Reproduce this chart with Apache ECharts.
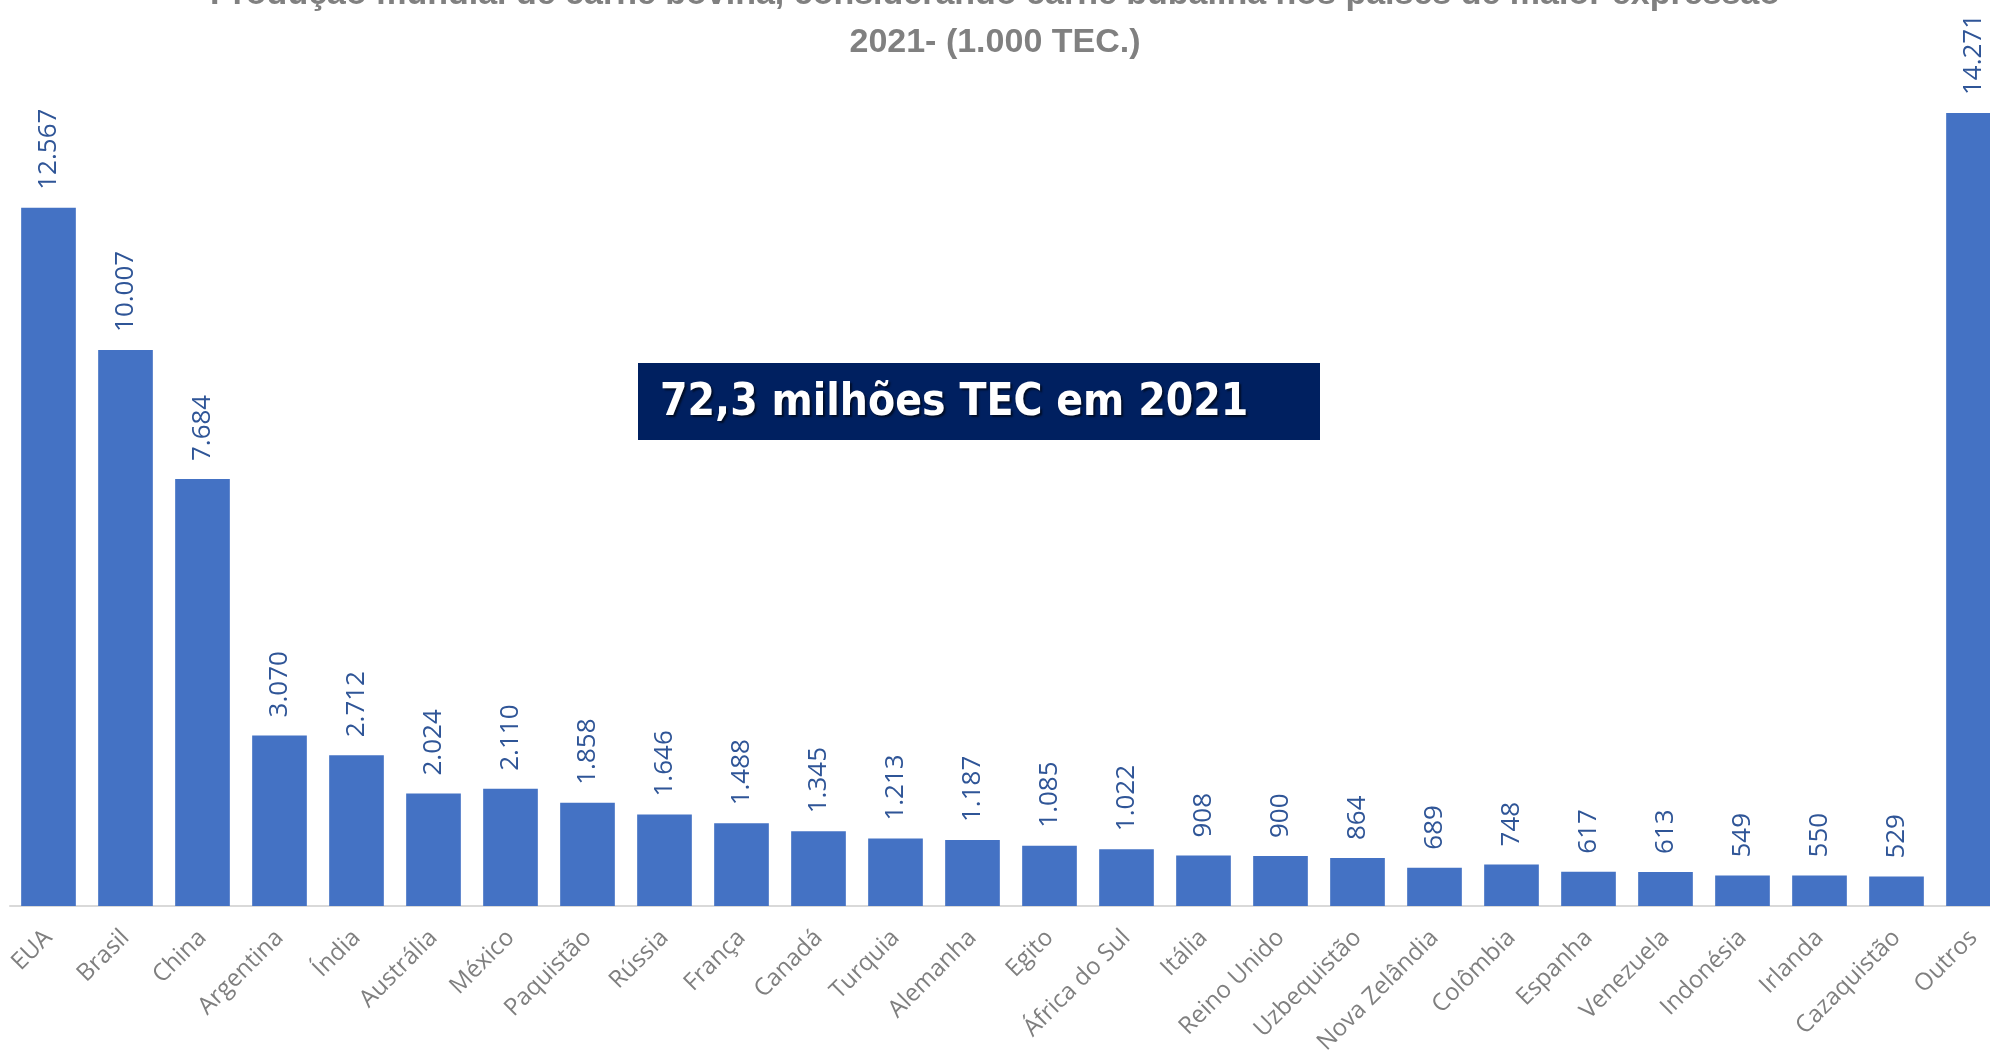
<!DOCTYPE html>
<html>
<head>
<meta charset="utf-8">
<script src="https://cdn.jsdelivr.net/npm/echarts@6/dist/echarts.min.js"></script>
<style>
html,body{margin:0;padding:0;background:#fff;}
#chart{width:1990px;height:1059px;}
</style>
</head>
<body>
<div id="chart"></div>
<script>
const categories = ["EUA","Brasil","China","Argentina","Índia","Austrália","México","Paquistão","Rússia","França","Canadá","Turquia","Alemanha","Egito","África do Sul","Itália","Reino Unido","Uzbequistão","Nova Zelândia","Colômbia","Espanha","Venezuela","Indonésia","Irlanda","Cazaquistão","Outros"];
const production = [12567,10007,7684,3070,2712,2024,2110,1858,1646,1488,1345,1213,1187,1085,1022,908,900,864,689,748,617,613,549,550,529,14271];
const titleLines = ["Produção mundial de carne bovina, considerando carne bubalina nos países de maior expressão","2021- (1.000 TEC.)"];
const annotation = "72,3 milhões TEC em 2021";

function fmt(v){ return String(v).replace(/\B(?=(\d{3})+(?!\d))/g, "."); }

const chart = echarts.init(document.getElementById('chart'));
chart.setOption({
  backgroundColor:'#ffffff',
  animation:false,
  title:{
    text: titleLines.join("\n"),
    left:'center',
    top:-34,
    textStyle:{color:'#808080',fontFamily:'Liberation Sans',fontWeight:'bold',fontSize:34,lineHeight:48}
  },
  grid:{left:10,right:-22,top:17,bottom:153,containLabel:false,outerBoundsMode:'none'},
  xAxis:{
    type:'category',
    data:categories,
    axisLine:{lineStyle:{color:'#d9d9d9',width:2}},
    axisTick:{show:false},
    axisLabel:{rotate:45,color:'#7f7f7f',fontFamily:'Open Sans',fontSize:24,margin:28,interval:0}
  },
  yAxis:{
    type:'value',min:0,max:16000,show:false,splitLine:{show:false}
  },
  series:[{
    type:'bar',
    data:production,
    barCategoryGap:'29%',
    itemStyle:{color:'#4472C4'},
    label:{
      show:true,position:'top',rotate:90,align:'left',verticalAlign:'middle',distance:18,
      color:'#2F5597',fontFamily:'Open Sans',fontSize:26,
      formatter:p=>fmt(p.value)
    }
  }],
  graphic:[{
    type:'group',left:638,top:363,
    children:[
      {type:'rect',shape:{x:0,y:0,width:682,height:77},style:{fill:'#002060'}},
      {type:'text',left:22,top:19,style:{text:annotation,fill:'#ffffff',font:'bold 44px "DejaVu Sans Condensed"',textShadowColor:'rgba(0,0,0,0.6)',textShadowBlur:2,textShadowOffsetX:2,textShadowOffsetY:2}}
    ]
  }]
});
</script>
</body>
</html>
